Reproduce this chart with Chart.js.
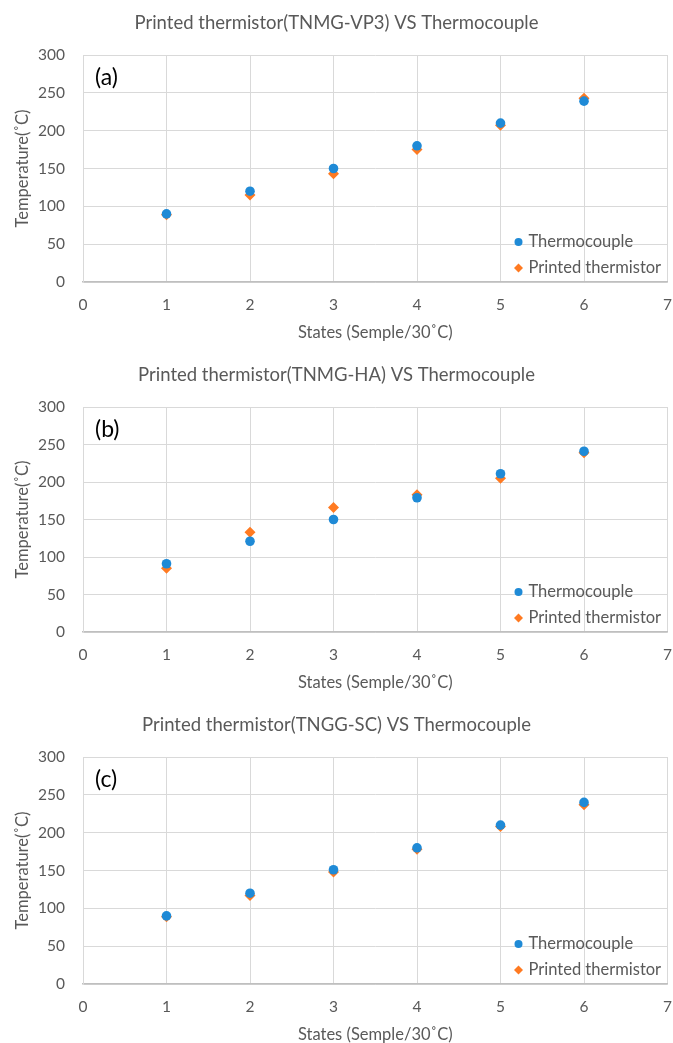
<!DOCTYPE html>
<html>
<head>
<meta charset="utf-8">
<script src="https://cdn.jsdelivr.net/npm/chart.js@4"></script>
<style>
  html, body { margin: 0; padding: 0; background: #fff; overflow: hidden; }
  .panel { position: relative; width: 673px; }
</style>
</head>
<body>
<div class="panel" style="height:350px"><canvas id="chart-a"></canvas></div>
<div class="panel" style="height:350px"><canvas id="chart-b"></canvas></div>
<div class="panel" style="height:343px"><canvas id="chart-c"></canvas></div>
<script>
// Three stacked scatter panels: thermocouple reading vs printed thermistor reading per state.

const states = [1, 2, 3, 4, 5, 6];
const thermocoupleA = [90, 120, 150, 180, 210, 239];
const printedA = [89, 115, 143, 175, 207, 243];
const thermocoupleB = [91, 121, 150, 179, 211, 241];
const printedB = [85, 133, 166, 183, 205, 239];
const thermocoupleC = [90, 120, 151, 180, 210, 240];
const printedC = [89, 117, 148, 178, 208, 237];

const panelTitles = [
  "Printed thermistor(TNMG-VP3) VS Thermocouple",
  "Printed thermistor(TNMG-HA) VS Thermocouple",
  "Printed thermistor(TNGG-SC) VS Thermocouple",
];
const panelLabels = ["(a)", "(b)", "(c)"];
const seriesNames = ["Thermocouple", "Printed thermistor"];
const xTicks = [0, 1, 2, 3, 4, 5, 6, 7];
const yTicks = [0, 50, 100, 150, 200, 250, 300];
const xTitle = "States (Semple/30˚C)";
const yTitle = "Temperature(˚C)";

const COLORS = {
  blue: "#1f8ad6",
  orange: "#ff7a21",
  grid: "#d9d9d9",
  axis: "#bfbfbf",
  text: "#595959",
};
const FONT = "Lato, 'Open Sans', sans-serif";

Chart.defaults.font.family = FONT;
Chart.defaults.color = COLORS.text;
Chart.defaults.animation = false;

const pts = (ys) => states.map((s, i) => ({ x: s, y: ys[i] }));

// title, panel tag, x title and the in-plot legend
const decorations = {
  id: "decorations",
  afterDraw(chart, args, opts) {
    const { ctx, chartArea: a } = chart;
    ctx.save();
    ctx.fillStyle = COLORS.text;
    ctx.textBaseline = "middle";
    ctx.textAlign = "center";
    ctx.font = `18.5px ${FONT}`;
    ctx.fillText(opts.title, chart.width / 2, a.top - 32);
    ctx.font = `16.5px ${FONT}`;
    ctx.fillText(xTitle, (a.left + a.right) / 2, a.bottom + 51);

    ctx.fillStyle = "#000";
    ctx.textAlign = "left";
    ctx.font = `23px ${FONT}`;
    ctx.fillText(opts.label, a.left + 12, a.top + 23);

    ctx.font = `16.5px ${FONT}`;
    const mx = a.right - 149;
    chart.data.datasets.forEach((ds, i) => {
      const y = a.bottom - 40 + i * 26;
      ctx.fillStyle = ds.backgroundColor;
      Chart.helpers.drawPoint(ctx, { pointStyle: ds.pointStyle, radius: i ? 4.5 : 4, borderWidth: 0 }, mx, y);
      ctx.fillStyle = COLORS.text;
      ctx.fillText(ds.label, mx + 10, y);
    });
    ctx.restore();
  },
};

function makePanel(id, idx, tc, pr, plotTop, plotBottom, height) {
  return new Chart(document.getElementById(id), {
    type: "scatter",
    data: {
      datasets: [
        { label: seriesNames[0], data: pts(tc), backgroundColor: COLORS.blue, borderWidth: 0, pointStyle: "circle", pointRadius: 4.8 },
        { label: seriesNames[1], data: pts(pr), backgroundColor: COLORS.orange, borderWidth: 0, pointStyle: "rectRot", pointRadius: 5.5 },
      ],
    },
    options: {
      responsive: true,
      maintainAspectRatio: false,
      layout: { padding: { top: plotTop, left: 0, right: 0, bottom: 0 } },
      plugins: {
        legend: { display: false },
        tooltip: { enabled: false },
        decorations: { title: panelTitles[idx], label: panelLabels[idx] },
      },
      scales: {
        x: {
          type: "linear",
          min: xTicks[0],
          max: xTicks[xTicks.length - 1],
          afterBuildTicks: (s) => { s.ticks = xTicks.map((v) => ({ value: v })); },
          ticks: { font: { size: 15.5 }, padding: 14 },
          grid: { color: COLORS.grid, drawTicks: false },
          border: { color: COLORS.axis, width: 1.5 },
          afterFit: (s) => { s.height = height - plotBottom; s.paddingRight = 2; },
        },
        y: {
          type: "linear",
          min: yTicks[0],
          max: yTicks[yTicks.length - 1],
          afterBuildTicks: (s) => { s.ticks = yTicks.map((v) => ({ value: v })); },
          ticks: { font: { size: 15.5 }, padding: 18 },
          grid: { color: COLORS.grid, drawTicks: false },
          border: { color: COLORS.grid },
          title: { display: true, text: yTitle, font: { size: 16.5 }, padding: { top: 13, bottom: 0 } },
          afterFit: (s) => { s.width = 83; },
        },
      },
    },
    plugins: [decorations],
  });
}

makePanel("chart-a", 0, thermocoupleA, printedA, 55, 282, 350);
makePanel("chart-b", 1, thermocoupleB, printedB, 57, 282, 350);
makePanel("chart-c", 2, thermocoupleC, printedC, 57, 284, 343);
</script>
</body>
</html>
